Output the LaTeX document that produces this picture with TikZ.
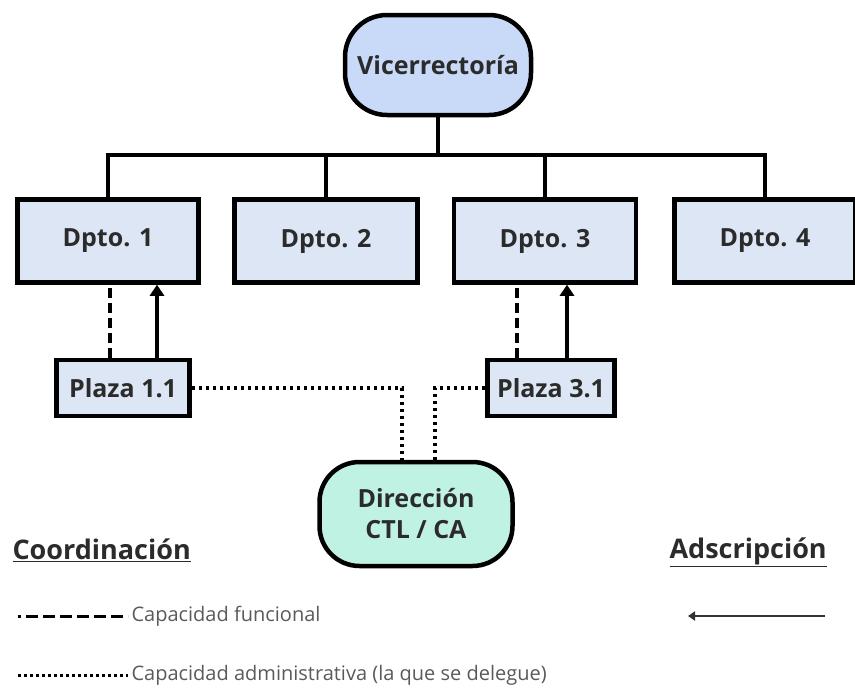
\documentclass[tikz,border=0pt]{standalone}
\usepackage{fontspec}
\setmainfont{Open Sans}
\usepackage{tikz}
\usetikzlibrary{arrows.meta}
\definecolor{viceblue}{HTML}{C9DAF8}
\definecolor{dptoblue}{HTML}{DCE6F4}
\definecolor{dirgreen}{HTML}{C0F2E3}
\definecolor{labelgray}{HTML}{5A5A5A}
\definecolor{textdark}{HTML}{2B2B2B}

\begin{document}
\begin{tikzpicture}[x=1pt,y=-1pt,
		boxfont/.style={font=\bfseries\fontsize{25}{31}\selectfont, text=textdark},
		funcline/.style={line width=3.5pt, dash pattern=on 10pt off 5pt},
		adminline/.style={line width=3.5pt, dash pattern=on 3.5pt off 3.5pt},
		adsline/.style={line width=3.5pt, -{Triangle[width=14pt,length=11pt]}}]
	\useasboundingbox (0,0) rectangle (855,688);
	\begin{scope}[every node/.style={draw=black, line width=4.5pt, boxfont, align=center}]
		\node[fill=viceblue, rounded corners=42pt, minimum width=186pt, minimum height=100pt] (V) at (438,65) {Vicerrectoría};
		\node[fill=dptoblue, minimum width=181pt, minimum height=83pt] (D1) at (108,241) {Dpto. 1};
		\node[fill=dptoblue, minimum width=183pt, minimum height=83pt] (D2) at (326,241) {Dpto. 2};
		\node[fill=dptoblue, minimum width=182pt, minimum height=83pt] (D3) at (545,241) {Dpto. 3};
		\node[fill=dptoblue, minimum width=181pt, minimum height=83pt] (D4) at (765,241) {Dpto. 4};
		\node[fill=dptoblue, minimum width=133pt, minimum height=56pt] (P1) at (123,388) {Plaza 1.1};
		\node[fill=dptoblue, minimum width=127pt, minimum height=56pt] (P3) at (551,388) {Plaza 3.1};
		\node[fill=dirgreen, rounded corners=40pt, minimum width=193pt, minimum height=104pt] (Dir) at (416,514) {Dirección\\CTL / CA};
	\end{scope}
	% arbol
	\coordinate (bus) at (438,155);
	\begin{scope}[line width=3.5pt]
		\draw (V) -- (bus);
		\draw (D1.north) |- (bus);
		\draw (D2.north) |- (bus);
		\draw (D3.north) |- (bus);
		\draw (D4.north) |- (bus);
	\end{scope}
	% plazas
	\draw[funcline] ([xshift=-13pt]P1.north) -- ([xshift=-13pt]P1.north |- D1.south);
	\draw[adsline] ([xshift=34pt]P1.north) -- ([xshift=34pt]P1.north |- D1.south);
	\draw[funcline] ([xshift=-34pt]P3.north) -- ([xshift=-34pt]P3.north |- D3.south);
	\draw[adsline] ([xshift=16pt]P3.north) -- ([xshift=16pt]P3.north |- D3.south);
	\draw[adminline] (P1.east) -| ([xshift=-14pt]Dir.north);
	\draw[adminline] (P3.west) -| ([xshift=19pt]Dir.north);
	% leyenda
	\begin{scope}[every node/.style={font=\fontsize{20}{24}\selectfont, text=labelgray, anchor=west}]
		\node[font=\bfseries\fontsize{27}{32}\selectfont, text=textdark] (coord) at (9,550) {\underline{Coordinación}};
		\node[font=\bfseries\fontsize{27}{32}\selectfont, text=textdark] (adsc) at (666,552) {\underline{Adscripción}};
		\node (lfun) at (128,616) {Capacidad funcional};
		\node (ladm) at (128,675) {Capacidad administrativa (la que se delegue)};
	\end{scope}
	\coordinate (lfun0) at (18,616);
	\coordinate (ladm0) at (18,675);
	\coordinate (lads0) at (825,616);
	\coordinate (lads1) at (688,616);
	\draw[line width=3pt, dash pattern=on 3pt off 5pt on 12pt off 5pt on 12pt off 5pt on 12pt off 5pt on 12pt off 5pt on 12pt off 5pt on 12pt off 5pt] (lfun0) -- (lfun.west);
	\draw[line width=3pt, dash pattern=on 3pt off 3pt] (ladm0) -- (ladm.west);
	\draw[line width=2.5pt, draw=black!80, -{Triangle[width=9pt,length=7pt]}] (lads0) -- (lads1);
\end{tikzpicture}
\end{document}
